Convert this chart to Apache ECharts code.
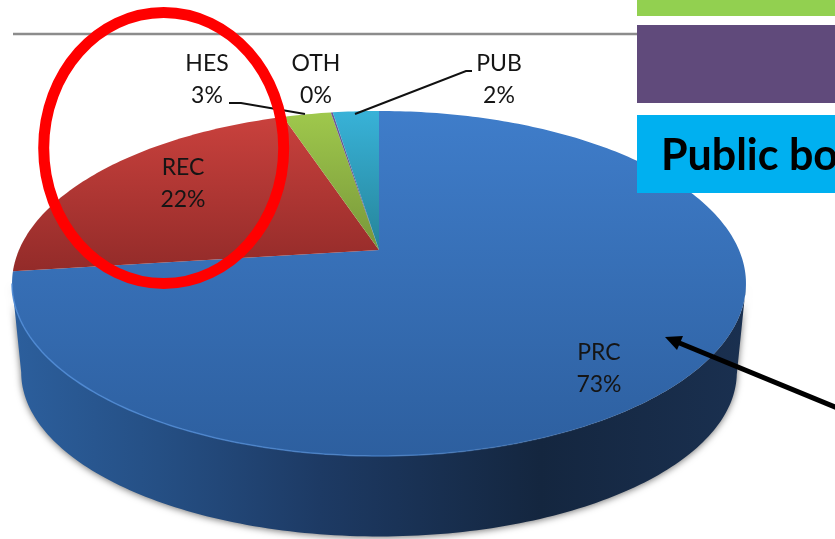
<!DOCTYPE html>
<html>
<head>
<meta charset="utf-8">
<style>
  html, body { margin: 0; padding: 0; background: #fff; overflow: hidden; }
  #main { width: 835px; height: 539px; }
</style>
<script src="https://cdn.jsdelivr.net/npm/echarts@6/dist/echarts.min.js"></script>
</head>
<body>
<div id="main"></div>
<script>
// clockwise from 12 o'clock
var categories = ["PRC", "REC", "HES", "OTH", "PUB"];
var values = [73.0, 21.9, 2.55, 0.1, 2.45];

// layout of the tilted disc (pixels)
var apexX = 379, apexY = 250;
var radA = 360, radB = 166, tilt = 0.194;
var labelPos = { PRC: [599, 369], REC: [183, 184], HES: [207, 80], OTH: [316, 80], PUB: [499, 80] };

var topColors = {
  PRC: ["#3f7dca", "#2d5f9f"],
  REC: ["#c9413d", "#932b29"],
  HES: ["#9fc84c", "#78973a"],
  OTH: ["#6f5a96", "#5f4a80"],
  PUB: ["#38b2d8", "#268499"]
};

var total = values.reduce(function (a, b) { return a + b; }, 0);

function rimPoint(share) {
  var t = share * Math.PI * 2;
  var d = 1 + tilt * Math.cos(t);
  return [apexX + radA * Math.sin(t) / d, apexY - radB * Math.cos(t) / d];
}

// same rim point moved down to the bottom edge of the disc
function lowerPoint(p) {
  return [apexX + (p[0] - apexX) * 0.975, 372 + (p[1] - 283) * 0.951];
}

function arcPoints(from, to) {
  var pts = [];
  var n = Math.max(2, Math.ceil((to - from) * 360));
  for (var i = 0; i <= n; i++) {
    pts.push(rimPoint(from + (to - from) * i / n));
  }
  return pts;
}

var started = 0;
var pieData = values.map(function (v) {
  var row = [v, started];
  started += v;
  return row;
});

function renderSlice(params, api) {
  var name = categories[params.dataIndex];
  var from = api.value(1) / total;
  var to = from + api.value(0) / total;
  var rim = arcPoints(from, to);
  var children = [];

  // only the part of the rim below the widest line shows a side wall
  var front = rim.filter(function (p) { return p[1] >= 283; });
  if (front.length > 1) {
    var low = front.map(lowerPoint).reverse();
    children.push({
      type: "polygon",
      shape: { points: front.concat(low) },
      style: {
        fill: new echarts.graphic.LinearGradient(0, 0, 1, 0, [
          { offset: 0, color: "#2c5f9d" },
          { offset: 0.2, color: "#254f84" },
          { offset: 0.42, color: "#1d3a64" },
          { offset: 0.72, color: "#14263f" },
          { offset: 1, color: "#1a3050" }
        ]),
        shadowBlur: 7,
        shadowColor: "rgba(0,0,0,0.55)",
        shadowOffsetY: 1
      }
    });
  }

  children.push({
    type: "polygon",
    shape: { points: [[apexX, apexY]].concat(rim) },
    style: {
      fill: new echarts.graphic.LinearGradient(0, 0, 0, 1, [
        { offset: 0, color: topColors[name][0] },
        { offset: 1, color: topColors[name][1] }
      ])
    }
  });

  // light bevel along the front edge, fading out to the right
  if (front.length > 1) {
    children.push({
      type: "polyline",
      shape: { points: front },
      style: {
        fill: null,
        lineWidth: 1.5,
        stroke: new echarts.graphic.LinearGradient(0, 0, 1, 0, [
          { offset: 0, color: "rgba(80,140,215,0.9)" },
          { offset: 0.55, color: "rgba(80,140,215,0.6)" },
          { offset: 0.85, color: "rgba(80,140,215,0)" }
        ])
      }
    });
  }

  children.push({
    type: "text",
    z2: 5,
    style: {
      x: labelPos[name][0],
      y: labelPos[name][1],
      text: name + "\n" + Math.round(api.value(0)) + "%",
      align: "center",
      verticalAlign: "middle",
      font: '23px Lato, "Open Sans", sans-serif',
      lineHeight: 32,
      fill: "#151515"
    }
  });

  return { type: "group", children: children };
}

var option = {
  animation: false,
  backgroundColor: "#fff",
  series: [{
    type: "custom",
    coordinateSystem: "none",
    renderItem: renderSlice,
    data: pieData,
    z: 2
  }],
  graphic: [
    // slide furniture around the chart
    { type: "line", z: 1, shape: { x1: 13, y1: 34, x2: 637, y2: 34 }, style: { stroke: "#8c8c8c", lineWidth: 2.5 } },
    { type: "rect", z: 10, shape: { x: 637, y: 0, width: 198, height: 16 }, style: { fill: "#92d050" } },
    { type: "rect", z: 10, shape: { x: 637, y: 25, width: 198, height: 78 }, style: { fill: "#604a7b" } },
    { type: "rect", z: 10, shape: { x: 637, y: 115, width: 198, height: 78 }, style: { fill: "#00b0f0" } },
    { type: "text", z: 11, style: { x: 661, y: 156, text: "Public bo", verticalAlign: "middle", font: 'bold 43px Lato, "Open Sans", sans-serif', fill: "#000" } },
    // leader lines
    { type: "polyline", z: 6, shape: { points: [[229, 103], [241, 103], [305, 114]] }, style: { fill: null, stroke: "#111", lineWidth: 2 } },
    { type: "polyline", z: 6, shape: { points: [[355, 114], [466, 71], [472, 71]] }, style: { fill: null, stroke: "#111", lineWidth: 2 } },
    // red ring
    { type: "ellipse", z: 8, shape: { cx: 163.7, cy: 148, rx: 120, ry: 135.5 }, style: { fill: null, stroke: "#ff0000", lineWidth: 11 } },
    // arrow
    { type: "line", z: 9, shape: { x1: 840, y1: 409, x2: 677, y2: 342 }, style: { stroke: "#000", lineWidth: 5 } },
    { type: "polygon", z: 9, shape: { points: [[665, 337], [683, 336], [677, 350]] }, style: { fill: "#000" } }
  ]
};

var myChart = echarts.init(document.getElementById("main"));
myChart.setOption(option);
</script>
</body>
</html>
